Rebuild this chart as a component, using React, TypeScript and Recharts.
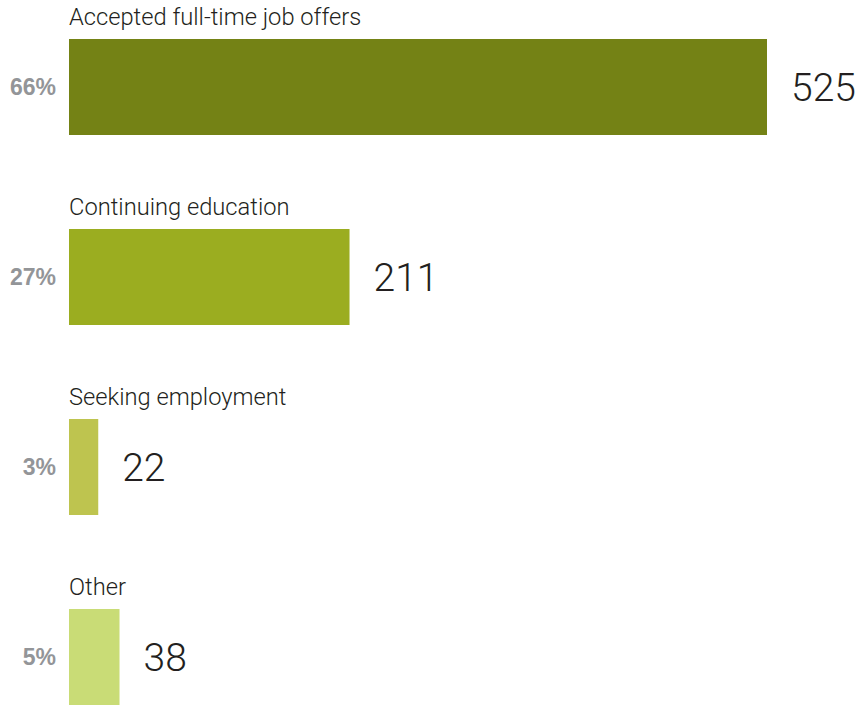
import { BarChart, Bar, XAxis, YAxis, Cell, LabelList } from 'recharts';

const categories = ['Accepted full-time job offers', 'Continuing education', 'Seeking employment', 'Other'];
const counts = [525, 211, 22, 38];
const percents = ['66%', '27%', '3%', '5%'];
const colors = ['#748215', '#9bad20', '#bec44f', '#c9dc76'];

const data = categories.map((name, i) => ({ name, value: counts[i], pct: percents[i] }));

const FONT = 'Roboto, "Liberation Sans", Arial, sans-serif';

function CategoryTick({ y, payload, index }: any) {
  return (
    <g>
      <text x={69} y={y - 62} fontSize={23.7} fontWeight={300} fill="#231f20" fontFamily={FONT}>
        {payload.value}
      </text>
      <text
        x={56}
        y={y}
        dy={8}
        textAnchor="end"
        fontSize={23}
        fontWeight={700}
        fill="#939598"
        fontFamily='"Liberation Sans", Arial, sans-serif'
      >
        {percents[index]}
      </text>
    </g>
  );
}

export default function App() {
  return (
    <div style={{ position: 'absolute', left: 0, top: -8, width: 858, height: 713, overflow: 'hidden' }}>
      <BarChart
        width={858}
        height={760}
        data={data}
        layout="vertical"
        margin={{ top: 0, right: 91, bottom: 0, left: 0 }}
        barCategoryGap={0}
      >
        <XAxis type="number" domain={[0, 525]} hide />
        <YAxis
          type="category"
          dataKey="name"
          width={69}
          axisLine={false}
          tickLine={false}
          tick={<CategoryTick />}
          interval={0}
        />
        <Bar dataKey="value" barSize={96} isAnimationActive={false}>
          {data.map((d, i) => (
            <Cell key={`cell-${i}`} fill={colors[i]} />
          ))}
          <LabelList
            dataKey="value"
            position="right"
            offset={24}
            fontSize={39}
            fontWeight={300}
            fill="#231f20"
            fontFamily={FONT}
          />
        </Bar>
      </BarChart>
    </div>
  );
}
